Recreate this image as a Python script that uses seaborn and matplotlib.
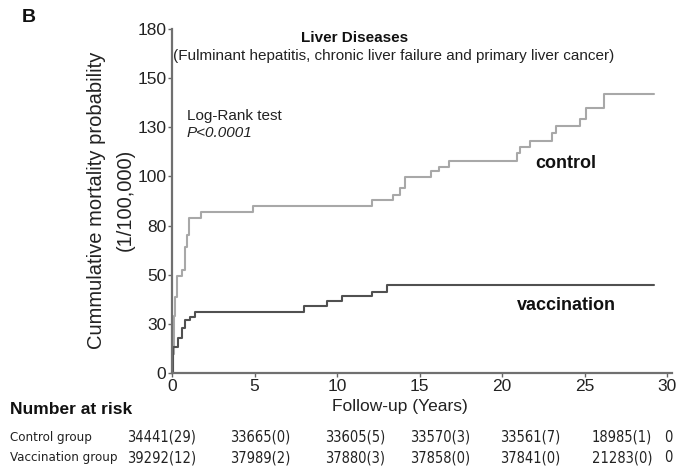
import numpy as np
import pandas as pd
import matplotlib
matplotlib.use('Agg')
import matplotlib.pyplot as plt
import seaborn as sns

# step points (years, axis units 0-180)
control_t = [0, 0.05, 0.1, 0.15, 0.2, 0.28, 0.59, 0.79, 0.89, 1.03, 1.74, 4.89,
             12.1, 13.4, 13.8, 14.1, 15.7, 16.2, 16.8, 20.9, 21.1, 21.7, 23.0,
             23.3, 24.7, 25.1, 26.2, 29.2]
control_v = [0, 10, 20, 30, 40, 50.8, 54, 66, 72, 81, 84, 87.4,
             90.3, 93, 97, 102.6, 105.7, 108, 111, 115, 118.4, 121.6, 125.6,
             129, 133, 138.7, 146, 146]
vacc_t = [0, 0.05, 0.38, 0.59, 0.79, 1.09, 1.39, 8.0, 9.4, 10.3, 12.1, 13.0, 29.2]
vacc_v = [0, 13.8, 18.3, 23.5, 27.7, 29.5, 32, 35, 37.8, 40.5, 42.5, 46, 46]

ytick_labels = ['0', '30', '50', '80', '100', '130', '150', '180']
xticks = [0, 5, 10, 15, 20, 25, 30]

risk_rows = ['Control group', 'Vaccination group']
control_risk = ['34441(29)', '33665(0)', '33605(5)', '33570(3)', '33561(7)', '18985(1)', '0']
vacc_risk = ['39292(12)', '37989(2)', '37880(3)', '37858(0)', '37841(0)', '21283(0)', '0']

sns.set_theme(style='white')
plt.rcParams['font.family'] = ['Liberation Sans', 'DejaVu Sans']

df = pd.concat([
    pd.DataFrame({'t': control_t, 'v': control_v, 'group': 'control'}),
    pd.DataFrame({'t': vacc_t, 'v': vacc_v, 'group': 'vaccination'}),
])

fig = plt.figure(figsize=(6.81, 4.70), dpi=100)
ax = fig.add_axes([172 / 681, 1 - 373 / 470, 500 / 681, 344 / 470])

sns.lineplot(data=df, x='t', y='v', hue='group', estimator=None, sort=False,
             palette={'control': '#a8a8a8', 'vaccination': '#505050'},
             drawstyle='steps-post', linewidth=1.5, legend=False, ax=ax)

ax.set_xlim(0, 30.3)
ax.set_ylim(0, 180)
ax.set_xticks(xticks)
ax.set_yticks(np.linspace(0, 180, 8))
ax.set_yticklabels(ytick_labels)
ax.tick_params(axis='both', labelsize=12.5, length=3, width=1, color='#666666',
               labelcolor='#222222', direction='out', bottom=True, left=True, pad=1)
for s in ['top', 'right']:
    ax.spines[s].set_visible(False)
for s in ['left', 'bottom']:
    ax.spines[s].set_color('#707070')
    ax.spines[s].set_linewidth(1.6)
ax.set_xlabel('')
ax.set_ylabel('')

fig.text(97 / 681, 1 - 200 / 470, 'Cummulative mortality probability',
         rotation=90, ha='center', va='center', fontsize=14.5, color='#222222')
fig.text(125 / 681, 1 - 200 / 470, '(1/100,000)',
         rotation=90, ha='center', va='center', fontsize=14.5, color='#222222')

fig.text(22 / 681, 1 - 17 / 470, 'B', fontsize=14, fontweight='bold',
         ha='left', va='center', color='#111111')
fig.text(355 / 681, 1 - 38 / 470, 'Liver Diseases', fontsize=11, fontweight='bold',
         ha='center', va='center', color='#111111')
fig.text(394 / 681, 1 - 56 / 470,
         '(Fulminant hepatitis, chronic liver failure and primary liver cancer)',
         fontsize=11, ha='center', va='center', color='#222222')
fig.text(187 / 681, 1 - 116 / 470, 'Log-Rank test', fontsize=11,
         ha='left', va='center', color='#222222')
fig.text(187 / 681, 1 - 133 / 470, 'P<0.0001', fontsize=11, style='italic',
         ha='left', va='center', color='#222222')
fig.text(566 / 681, 1 - 164 / 470, 'control', fontsize=13, fontweight='bold',
         ha='center', va='center', color='#111111')
fig.text(566 / 681, 1 - 305 / 470, 'vaccination', fontsize=13, fontweight='bold',
         ha='center', va='center', color='#111111')

fig.text(400 / 681, 1 - 406 / 470, 'Follow-up (Years)', fontsize=12.5,
         ha='center', va='center', color='#222222')
fig.text(10 / 681, 1 - 410 / 470, 'Number at risk', fontsize=12.5, fontweight='bold',
         ha='left', va='center', color='#111111')

col_x = [162, 260, 355, 440, 530, 622, 668]
for row, vals, yy in [(risk_rows[0], control_risk, 437), (risk_rows[1], vacc_risk, 458)]:
    fig.text(10 / 681, 1 - yy / 470, row, fontsize=9.5, family='DejaVu Sans',
             fontstretch='condensed', ha='left', va='center', color='#222222')
    for cx, val in zip(col_x, vals):
        fig.text(cx / 681, 1 - yy / 470, val, fontsize=10.5, family='DejaVu Sans',
                 fontstretch='condensed', ha='center', va='center', color='#222222')

fig.savefig('out.png', dpi=100)
